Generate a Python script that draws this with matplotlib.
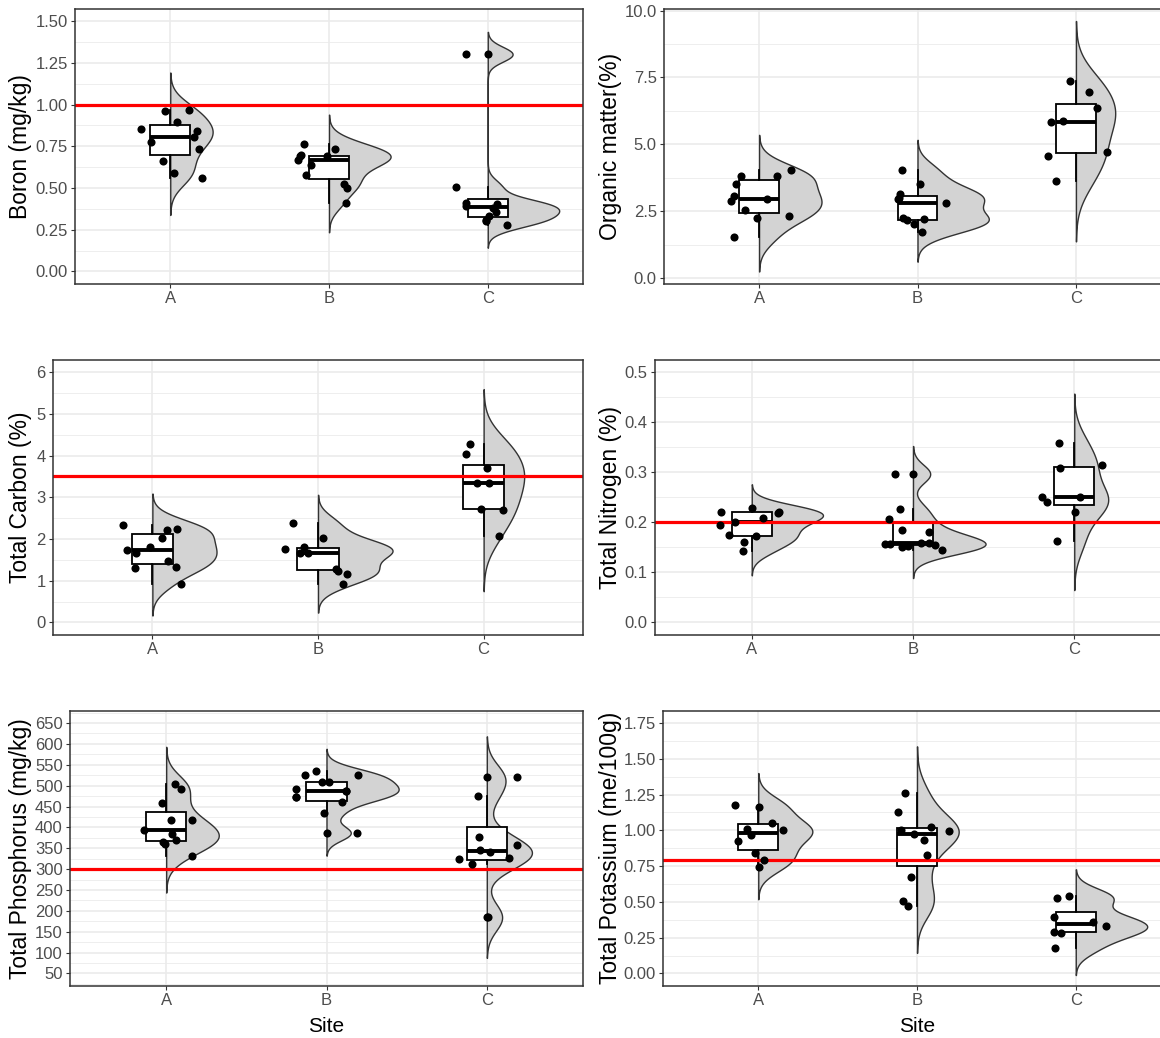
import numpy as np
import matplotlib
matplotlib.use("Agg")
import matplotlib.pyplot as plt

# ---------------- data ----------------
sites = ["A", "B", "C"]

boron_A = [0.854, 0.775, 0.960, 0.898, 0.664, 0.592, 0.970, 0.805, 0.842, 0.733, 0.560]
boron_A_dx = [-0.184, -0.121, -0.031, 0.040, -0.045, 0.021, 0.116, 0.151, 0.170, 0.182, 0.199]
boron_B = [0.764, 0.690, 0.668, 0.635, 0.579, 0.690, 0.734, 0.525, 0.501, 0.410, 0.695]
boron_B_dx = [-0.158, -0.183, -0.193, -0.116, -0.143, -0.011, 0.036, 0.095, 0.111, 0.105, -0.175]
boron_C = [1.301, 1.301, 0.507, 0.411, 0.403, 0.356, 0.332, 0.308, 0.276, 0.305, 0.380, 0.395]
boron_C_dx = [-0.137, 0.0, -0.198, -0.137, 0.057, 0.052, 0.009, -0.014, 0.123, -0.010, 0.030, -0.137]

om_A = [1.55, 2.875, 3.07, 3.52, 3.82, 2.54, 2.23, 2.97, 3.80, 2.32, 4.05]
om_A_dx = [-0.158, -0.174, -0.158, -0.146, -0.112, -0.091, -0.011, 0.053, 0.116, 0.189, 0.199]
om_B = [4.05, 3.53, 3.16, 3.01, 2.95, 2.81, 2.23, 2.17, 2.02, 2.21, 1.73]
om_B_dx = [-0.096, 0.018, -0.110, -0.115, -0.120, 0.183, -0.091, -0.064, -0.023, 0.041, 0.027]
om_C = [7.35, 6.94, 6.36, 5.82, 5.86, 4.58, 4.71, 3.63]
om_C_dx = [-0.037, 0.084, 0.135, -0.155, -0.080, -0.178, 0.199, -0.126]

tc_A = [2.335, 1.73, 1.30, 1.66, 1.82, 2.03, 2.21, 2.23, 1.47, 1.32, 0.92]
tc_A_dx = [-0.177, -0.152, -0.102, -0.098, -0.016, 0.057, 0.091, 0.148, 0.095, 0.143, 0.175]
tc_B = [2.375, 1.75, 1.80, 1.67, 1.67, 2.02, 1.28, 1.24, 1.16, 0.92]
tc_B_dx = [-0.152, -0.200, -0.084, -0.109, -0.060, 0.030, 0.109, 0.118, 0.175, 0.152]
tc_C = [4.27, 4.03, 3.69, 3.35, 3.35, 2.72, 2.69, 2.07]
tc_C_dx = [-0.080, -0.109, 0.023, -0.041, 0.030, -0.016, 0.118, 0.091]

tn_A = [0.2205, 0.194, 0.174, 0.200, 0.160, 0.142, 0.228, 0.172, 0.209, 0.219, 0.2205]
tn_A_dx = [-0.191, -0.196, -0.140, -0.101, -0.050, -0.056, 0.0, 0.029, 0.072, 0.160, 0.171]
tn_B = [0.296, 0.297, 0.226, 0.207, 0.184, 0.181, 0.157, 0.157, 0.150, 0.154, 0.144, 0.152, 0.158, 0.159]
tn_B_dx = [-0.113, 0.0, -0.081, -0.149, -0.070, 0.099, -0.171, -0.142, -0.070, 0.135, 0.180, -0.030, 0.050, 0.100]
tn_C = [0.358, 0.308, 0.3136, 0.250, 0.240, 0.250, 0.220, 0.1636]
tn_C_dx = [-0.097, -0.090, 0.173, -0.198, -0.169, 0.034, 0.005, -0.104]

tp_A = [504.8, 492.8, 459, 417, 416.5, 393, 385, 370.7, 364, 332, 361]
tp_A_dx = [0.056, 0.091, -0.027, 0.029, 0.164, -0.137, 0.035, 0.062, -0.017, 0.160, -0.010]
tp_B = [524.5, 535, 491.5, 473.3, 508.5, 508.5, 488, 460.6, 524.5, 433.4, 386.8, 385.5, 473.3, 488]
tp_B_dx = [-0.131, -0.066, -0.193, -0.193, -0.027, 0.015, 0.124, 0.097, 0.197, -0.015, 0.0, 0.191, -0.188, 0.120]
tp_C = [521, 521, 475, 377, 358, 325.3, 313.4, 327.7, 184.5, 184.5, 340, 347]
tp_C_dx = [0.0, 0.186, -0.054, -0.049, 0.186, -0.176, -0.094, 0.139, 0.0, 0.005, 0.020, -0.040]

tk_A = [1.174, 1.162, 1.051, 1.005, 1.012, 0.965, 0.924, 0.843, 0.796, 0.745]
tk_A_dx = [-0.147, 0.004, 0.084, 0.153, -0.073, -0.048, -0.130, -0.021, 0.036, 0.006]
tk_B = [1.259, 1.125, 1.005, 0.975, 1.021, 0.993, 0.931, 0.826, 0.674, 0.507, 0.472]
tk_B_dx = [-0.073, -0.119, -0.099, -0.021, 0.086, 0.199, 0.042, 0.061, -0.036, -0.088, -0.057]
tk_C = [0.527, 0.538, 0.397, 0.362, 0.334, 0.288, 0.283, 0.179]
tk_C_dx = [-0.116, -0.041, -0.139, 0.107, 0.192, -0.137, -0.094, -0.128]

titles = ["Boron (mg/kg)", "Organic matter(%)", "Total Carbon (%)",
          "Total Nitrogen (%)", "Total Phosphorus (mg/kg)", "Total Potassium (me/100g)"]
ref_lines = [1.0, None, 3.5, 0.2, 300, 0.79]
yticks_list = [np.arange(0, 1.51, 0.25), np.arange(0, 10.1, 2.5), np.arange(0, 6.1, 1),
               np.arange(0, 0.51, 0.1), np.arange(50, 651, 50), np.arange(0, 1.76, 0.25)]
ytick_fmt = ["{:.2f}", "{:.1f}", "{:.0f}", "{:.1f}", "{:.0f}", "{:.2f}"]
ylims = [(0, 1.5), None, (0, 6), (0, 0.5), (50, 650), (0, 1.75)]

panels_vals = [(boron_A, boron_B, boron_C), (om_A, om_B, om_C), (tc_A, tc_B, tc_C),
               (tn_A, tn_B, tn_C), (tp_A, tp_B, tp_C), (tk_A, tk_B, tk_C)]
panels_dx = [(boron_A_dx, boron_B_dx, boron_C_dx), (om_A_dx, om_B_dx, om_C_dx),
             (tc_A_dx, tc_B_dx, tc_C_dx), (tn_A_dx, tn_B_dx, tn_C_dx),
             (tp_A_dx, tp_B_dx, tp_C_dx), (tk_A_dx, tk_B_dx, tk_C_dx)]

# ---------------- layout (pixels) ----------------
W, H = 1160, 1038
# left, right, top, bottom
boxes = [(75, 583, 8.5, 284), (664, 1171, 8.5, 284),
         (53, 583, 359.5, 635), (655, 1171, 359.5, 635),
         (70, 583, 710.5, 986), (663, 1171, 710.5, 986)]
title_x = [21, 610, 21, 610, 21, 610]

plt.rcParams['font.family'] = ['Liberation Sans', 'DejaVu Sans']

fig = plt.figure(figsize=(W / 100, H / 100), dpi=100)
fig.patch.set_facecolor('white')


def nrd0(x):
    x = np.asarray(x, float)
    n = len(x)
    hi = np.std(x, ddof=1)
    q75, q25 = np.percentile(x, [75, 25])
    lo = min(hi, (q75 - q25) / 1.34)
    if lo <= 0:
        lo = hi if hi > 0 else 1.0
    return 0.9 * lo * n ** (-0.2)


def kde(x):
    x = np.asarray(x, float)
    bw = nrd0(x)
    g = np.linspace(x.min() - 3 * bw, x.max() + 3 * bw, 512)
    d = np.exp(-0.5 * ((g[:, None] - x[None, :]) / bw) ** 2).sum(axis=1)
    d /= (len(x) * bw * np.sqrt(2 * np.pi))
    return g, d


for i in range(6):
    l, r, t, b = boxes[i]
    ax = fig.add_axes([l / W, 1 - b / H, (r - l) / W, (b - t) / H])
    vals = panels_vals[i]
    dxs = panels_dx[i]
    pos = [1, 2, 3]

    dens = [kde(v) for v in vals]
    dmax = max(d.max() for g, d in dens)
    for p, (g, d) in zip(pos, dens):
        ax.fill_betweenx(g, p, p + 0.45 * d / dmax, facecolor='#D3D3D3',
                         edgecolor='#333333', linewidth=1.0, zorder=2)

    ax.boxplot([np.asarray(v) for v in vals], positions=pos, widths=0.25,
               whis=1.5, showfliers=False, showcaps=False, patch_artist=True,
               boxprops=dict(facecolor='white', edgecolor='black', linewidth=1.3),
               medianprops=dict(color='black', linewidth=2.8, solid_capstyle='butt'),
               whiskerprops=dict(color='black', linewidth=1.3),
               zorder=3, manage_ticks=False)

    if ref_lines[i] is not None:
        ax.axhline(ref_lines[i], color='red', linewidth=2.3, zorder=4)

    for p, v, dx in zip(pos, vals, dxs):
        ax.scatter(p + np.asarray(dx), v, s=34, color='black', linewidths=0, zorder=5)

    # y limits
    if ylims[i] is None:
        lo = min(g.min() for g, d in dens)
        hi = max(g.max() for g, d in dens)
    else:
        lo, hi = ylims[i]
    span = hi - lo
    ylo, yhi = lo - 0.05 * span, hi + 0.05 * span
    ax.set_ylim(ylo, yhi)
    ax.set_xlim(0.4, 3.6)

    yt = yticks_list[i]
    ax.set_yticks(yt)
    ax.set_yticklabels([ytick_fmt[i].format(v) for v in yt])
    step = yt[1] - yt[0]
    ext = np.concatenate([[yt[0] - step], yt, [yt[-1] + step]])
    minors = (ext[:-1] + ext[1:]) / 2
    minors = minors[(minors >= ylo) & (minors <= yhi)]
    ax.set_yticks(minors, minor=True)
    ax.set_xticks(pos)
    ax.set_xticklabels(sites)

    ax.grid(which='major', color='#EBEBEB', linewidth=1.2, zorder=0)
    ax.grid(which='minor', axis='y', color='#EBEBEB', linewidth=0.6, zorder=0)
    ax.set_axisbelow(True)
    ax.tick_params(which='minor', length=0)
    ax.tick_params(which='major', length=3.0, width=0.8, color='#333333',
                   labelcolor='#4D4D4D', labelsize=12, pad=2.2)
    for sp in ax.spines.values():
        sp.set_color('#333333')
        sp.set_linewidth(1.1)
        sp.set_zorder(6)

    fig.text(title_x[i] / W, 1 - ((t + b) / 2) / H, titles[i], rotation=90,
             ha='center', va='center', fontsize=16.5, color='black')
    if i >= 4:
        fig.text(((l + r) / 2) / W, 1 - 1027 / H, "Site", ha='center', va='center',
                 fontsize=15, color='black')

fig.savefig("out.png", dpi=100, facecolor='white')
